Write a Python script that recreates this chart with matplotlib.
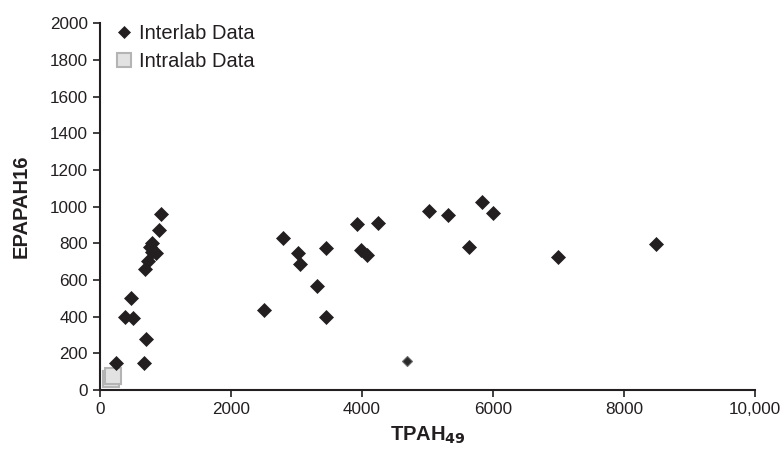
import matplotlib
matplotlib.use("Agg")
import matplotlib.pyplot as plt
from matplotlib.ticker import FixedLocator, FuncFormatter

plt.rcParams['font.family'] = ['Liberation Sans', 'DejaVu Sans']

# Interlab data (TPAH49, EPAPAH16)
inter_x = [240, 680, 700, 380, 500, 480, 690, 740, 860, 790, 760, 800, 900, 940,
           2510, 2800, 3020, 3050, 3450, 3320, 3450, 3920, 4240, 3980, 4070,
           5020, 5320, 5630, 5840, 6000, 7000, 8490]
inter_y = [145, 145, 280, 400, 390, 500, 660, 705, 745, 755, 780, 800, 870, 960,
           438, 830, 745, 686, 775, 567, 397, 905, 910, 764, 736,
           975, 952, 780, 1027, 967, 724, 796]

# single smaller interlab point
odd_x = [4690]
odd_y = [160]

# Intralab data
intra_x = [170, 200]
intra_y = [62, 74]

x_ticks = [0, 2000, 4000, 6000, 8000, 10000]
y_ticks = list(range(0, 2001, 200))

fig = plt.figure(figsize=(7.8, 4.54), dpi=100)
ax = fig.add_axes([0.128, 0.141, 0.84, 0.808])

ax.plot(intra_x, intra_y, linestyle='none', marker='s', ms=12,
        mfc='#e2e2e2', mec='#b4b4b4', mew=1.5, label='Intralab Data', zorder=3,
        clip_on=False)
ax.plot(inter_x, inter_y, linestyle='none', marker='D', ms=7.6,
        mfc='#231f20', mec='#231f20', mew=0.5, label='Interlab Data', zorder=4)
ax.plot(odd_x, odd_y, linestyle='none', marker='D', ms=5.5,
        mfc='#2a2a2a', mec='#6a6a6a', mew=0.8, zorder=4)

ax.set_xlim(0, 10000)
ax.set_ylim(0, 2000)
ax.xaxis.set_major_locator(FixedLocator(x_ticks))
ax.yaxis.set_major_locator(FixedLocator(y_ticks))
ax.xaxis.set_major_formatter(FuncFormatter(lambda v, p: f"{int(v):,}" if v >= 10000 else f"{int(v)}"))
ax.yaxis.set_major_formatter(FuncFormatter(lambda v, p: f"{int(v)}"))

for s in ['top', 'right']:
    ax.spines[s].set_visible(False)
for s in ['left', 'bottom']:
    ax.spines[s].set_linewidth(1.5)
    ax.spines[s].set_color('#231f20')
    ax.spines[s].set_zorder(5)

ax.tick_params(axis='both', direction='out', length=5, width=1.2, colors='#231f20',
               labelsize=12.3, labelcolor='#231f20')

ax.set_xlabel('TPAH$_{\\mathbf{49}}$', fontsize=14.5, fontweight='bold', color='#231f20', labelpad=6)
ax.set_ylabel('EPAPAH16', fontsize=14.5, fontweight='bold', color='#231f20', labelpad=14)

handles, labels = ax.get_legend_handles_labels()
order = [1, 0]
leg = ax.legend([handles[i] for i in order], [labels[i] for i in order],
                loc='upper left', bbox_to_anchor=(0.0, 1.035), frameon=False,
                fontsize=14.5, handletextpad=0.25, borderaxespad=0.3, labelspacing=0.45,
                markerscale=0.8, handlelength=1.0)
for t in leg.get_texts():
    t.set_color('#231f20')

fig.savefig('out.png', dpi=100)
